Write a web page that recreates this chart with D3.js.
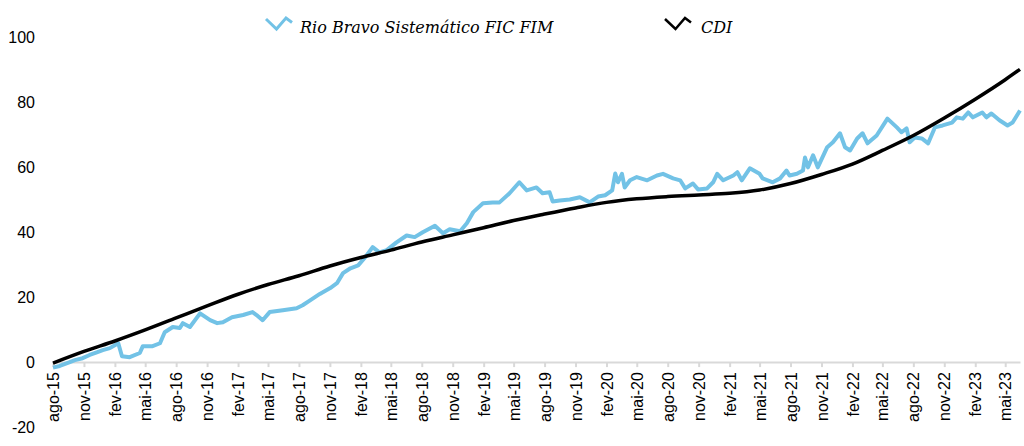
<!DOCTYPE html>
<html>
<head>
<meta charset="utf-8">
<script src="https://cdn.jsdelivr.net/npm/d3@7"></script>
<style>
  body { margin: 0; background: #fff; }
  .tickLabel { font-family: "Liberation Sans", Arial, sans-serif; font-size: 16px; fill: #000; }
  .legendText { font-family: "DejaVu Serif", serif; font-style: italic; font-size: 16px; fill: #000; }
</style>
</head>
<body>
<div id="chart"></div>
<script>
// Chart data
var fundDates = ["2015-08-01","2015-08-21","2015-09-20","2015-10-05","2015-10-28","2015-11-18","2015-12-09","2015-12-27",
  "2016-01-17","2016-02-11","2016-02-22","2016-03-16","2016-04-15","2016-04-24","2016-05-23","2016-06-14","2016-06-28",
  "2016-07-22","2016-08-12","2016-08-21","2016-09-11","2016-10-11","2016-11-10","2016-12-01","2016-12-18",
  "2017-01-14","2017-02-16","2017-03-16","2017-03-28","2017-04-15","2017-05-06","2017-06-14","2017-07-25","2017-08-12",
  "2017-09-03","2017-10-02","2017-11-02","2017-11-22","2017-12-10","2018-01-01","2018-01-24","2018-02-14","2018-03-08",
  "2018-03-28","2018-04-19","2018-05-18","2018-06-17","2018-07-11","2018-08-04","2018-09-09","2018-10-03","2018-10-23",
  "2018-11-23","2018-12-13","2019-01-01","2019-01-30","2019-02-28","2019-03-20","2019-04-19","2019-05-18","2019-06-09",
  "2019-07-08","2019-07-26","2019-08-16","2019-08-25","2019-09-15","2019-10-15","2019-11-14","2019-12-13","2020-01-07",
  "2020-01-28","2020-02-18","2020-02-27","2020-03-06","2020-03-18","2020-03-26","2020-04-11","2020-05-01","2020-06-01",
  "2020-06-30","2020-07-18","2020-08-17","2020-09-07","2020-09-22","2020-10-15","2020-10-30","2020-11-26","2020-12-14",
  "2020-12-26","2021-01-13","2021-02-12","2021-02-24","2021-03-09","2021-04-02","2021-05-01","2021-05-10","2021-06-09",
  "2021-07-01","2021-07-20","2021-07-29","2021-08-20","2021-09-07","2021-09-13","2021-09-22","2021-10-07","2021-10-21",
  "2021-11-18","2021-12-05","2021-12-26","2022-01-10","2022-01-25","2022-02-15","2022-03-03","2022-03-18","2022-04-14",
  "2022-05-16","2022-06-13","2022-06-27","2022-07-12","2022-07-21","2022-08-05","2022-08-26","2022-09-14","2022-10-04",
  "2022-10-27","2022-11-24","2022-12-08","2022-12-26","2023-01-11","2023-01-25","2023-02-22","2023-03-06","2023-03-21",
  "2023-04-14","2023-05-08","2023-05-23","2023-06-14"];
var fundValues = [-1.7,-1.2,0,0.6,1.2,2.2,3,3.7,
  4.3,5.8,1.8,1.5,2.8,4.9,4.9,5.8,9.2,
  10.8,10.5,12,10.8,15,12.9,12,12.3,
  13.8,14.5,15.4,14.5,12.9,15.4,16,16.6,17.5,
  19,21,22.8,24.3,27.4,28.9,29.8,32.3,35.4,
  33.8,34.5,36.9,39,38.5,40,42,39.7,40.9,
  40.3,42.8,46.2,48.9,49.2,49.2,52,55.4,52.9,
  53.8,52,52.3,49.5,49.8,50.1,50.8,49.2,51,
  51.4,52.9,58.1,55.4,58,53.8,56,57,56,
  57.5,58,56.6,56,53.5,55,53.2,53.5,55.4,
  58,56,57.5,58.5,56,59.7,58,56.6,55.4,
  56.6,59,57.5,58,59,63,60,63.7,60,
  66.2,67.7,70.5,66.2,65.2,68.9,70.5,67.4,69.8,
  75,72.3,70.8,72,67.7,69.2,68.9,67.4,72.3,
  72.9,73.8,75.4,75,76.9,75.4,76.9,75.4,76.6,
  74.5,72.9,73.8,77.5];

var cdiDates = ["2015-08-01","2015-11-01","2016-02-01","2016-05-01","2016-08-01","2016-11-01","2017-02-01","2017-05-01",
  "2017-08-01","2017-11-01","2018-02-01","2018-05-01","2018-08-01","2018-11-01","2019-02-01","2019-05-01","2019-08-01",
  "2019-11-01","2020-02-01","2020-05-01","2020-08-01","2020-11-01","2021-02-01","2021-05-01","2021-08-01","2021-11-01",
  "2022-02-01","2022-05-01","2022-08-01","2022-11-01","2023-02-01","2023-05-01","2023-06-14"];
var cdiValues = [-0.3,3.3,6.5,9.9,13.6,17.3,20.9,23.9,
  26.6,29.6,32.2,34.5,37.0,39.2,41.4,43.6,45.6,
  47.5,49.2,50.3,51.0,51.5,52.0,53.0,55.0,57.8,
  61.0,65.2,69.8,75.2,81.0,87.0,90.2];

var tickLabels = ["ago-15","nov-15","fev-16","mai-16","ago-16","nov-16","fev-17","mai-17","ago-17","nov-17",
  "fev-18","mai-18","ago-18","nov-18","fev-19","mai-19","ago-19","nov-19","fev-20","mai-20","ago-20","nov-20",
  "fev-21","mai-21","ago-21","nov-21","fev-22","mai-22","ago-22","nov-22","fev-23","mai-23"];
var yTicks = [-20, 0, 20, 40, 60, 80, 100];
var seriesNames = ["Rio Bravo Sistemático FIC FIM", "CDI"];
var seriesColors = ["#72C2E6", "#000000"];

var svgWidth = 1024;
var svgHeight = 446;

var svg = d3.select("#chart")
  .append("svg")
  .attr("width", svgWidth)
  .attr("height", svgHeight);

var parseDate = d3.timeParse("%Y-%m-%d");
var monthIdx = {jan:0, fev:1, mar:2, abr:3, mai:4, jun:5, jul:6, ago:7, set:8, out:9, nov:10, dez:11};
var tickDates = tickLabels.map(function(l) {
  var p = l.split("-");
  return new Date(2000 + (+p[1]), monthIdx[p[0]], 1);
});

var fund = fundDates.map(function(d, i) { return {date: parseDate(d), value: fundValues[i]}; });
var cdi = cdiDates.map(function(d, i) { return {date: parseDate(d), value: cdiValues[i]}; });

// Scales
var xScale = d3.scaleTime()
  .domain([parseDate("2015-08-01"), parseDate("2023-06-14")])
  .range([53, 1020]);

var yScale = d3.scaleLinear()
  .domain([-20, 100])
  .range([427, 37.5]);

// y labels, no axis line
svg.append("g")
  .selectAll("text")
  .data(yTicks)
  .enter()
  .append("text")
  .attr("class", "tickLabel")
  .attr("x", 35)
  .attr("y", d => yScale(d))
  .attr("dy", "0.35em")
  .attr("text-anchor", "end")
  .text(d => d);

// x axis sitting on zero
var bottomAxis = d3.axisBottom(xScale)
  .tickValues(tickDates)
  .tickSizeInner(5)
  .tickSizeOuter(0)
  .tickFormat(function(d, i) { return tickLabels[i]; });

var xAxisG = svg.append("g")
  .attr("transform", `translate(0, ${yScale(0)})`)
  .call(bottomAxis);

xAxisG.select(".domain")
  .attr("stroke", "#d9d9d9")
  .attr("stroke-width", 2);
xAxisG.selectAll(".tick line")
  .attr("stroke", "#d9d9d9")
  .attr("stroke-width", 2);
xAxisG.selectAll(".tick text")
  .attr("class", "tickLabel")
  .attr("transform", "rotate(-90)")
  .attr("x", -10)
  .attr("y", 0)
  .attr("dy", "0.35em")
  .attr("text-anchor", "end")
  .style("font-family", "'Liberation Sans', Arial, sans-serif")
  .style("font-size", "16px")
  .attr("fill", "#000");

// Lines
var line = d3.line()
  .x(d => xScale(d.date))
  .y(d => yScale(d.value));

svg.append("path")
  .datum(fund)
  .attr("fill", "none")
  .attr("stroke", seriesColors[0])
  .attr("stroke-width", 4)
  .attr("stroke-linejoin", "round")
  .attr("d", line);

svg.append("path")
  .datum(cdi)
  .attr("fill", "none")
  .attr("stroke", seriesColors[1])
  .attr("stroke-width", 3.5)
  .attr("stroke-linejoin", "round")
  .attr("d", line.curve(d3.curveMonotoneX));

// Legend
var legendX = [266, 665];
var marker = [[0, 0], [10.5, 10], [20, -1], [26, 3.5]];
var legend = svg.append("g");
seriesNames.forEach(function(name, i) {
  var g = legend.append("g").attr("transform", `translate(${legendX[i]}, 19)`);
  g.append("path")
    .attr("d", d3.line()(marker))
    .attr("fill", "none")
    .attr("stroke", seriesColors[i])
    .attr("stroke-width", i === 0 ? 3 : 2.5);
  g.append("text")
    .attr("class", "legendText")
    .attr("x", i === 0 ? 34 : 36)
    .attr("y", 14)
    .text(name);
});
</script>
</body>
</html>
